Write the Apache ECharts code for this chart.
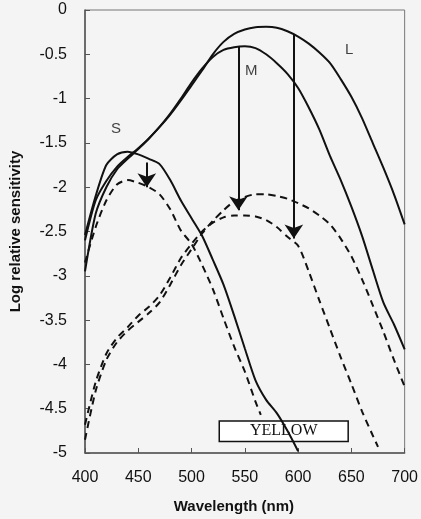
<!DOCTYPE html>
<html><head><meta charset="utf-8">
<script src="https://cdn.jsdelivr.net/npm/echarts@6/dist/echarts.min.js"></script>
<style>html,body{margin:0;padding:0;background:#f4f4f4}#c{width:421px;height:519px}</style>
</head><body><div id="c"></div>
<script>
// Wavelength samples (nm)
const wlL = [400,410,420,430,440,450,460,470,480,490,500,510,520,530,540,550,560,570,580,590,600,610,620,630,640,650,660,670,680,690,700];
const lSolid = [-2.6,-2.15,-1.93,-1.77,-1.66,-1.56,-1.45,-1.32,-1.18,-1.02,-0.85,-0.68,-0.5,-0.36,-0.27,-0.22,-0.195,-0.19,-0.2,-0.24,-0.3,-0.38,-0.48,-0.6,-0.78,-0.98,-1.22,-1.5,-1.78,-2.08,-2.42];
const mSolid = [-2.95,-2.3,-2.0,-1.8,-1.68,-1.57,-1.45,-1.32,-1.17,-1.0,-0.82,-0.66,-0.53,-0.45,-0.42,-0.41,-0.43,-0.5,-0.6,-0.72,-0.88,-1.1,-1.35,-1.65,-1.92,-2.22,-2.55,-2.93,-3.3,-3.55,-3.83];
const lDashed = [-4.85,-4.3,-3.95,-3.75,-3.62,-3.52,-3.42,-3.3,-3.1,-2.88,-2.7,-2.52,-2.38,-2.26,-2.16,-2.11,-2.08,-2.08,-2.1,-2.13,-2.18,-2.24,-2.32,-2.42,-2.58,-2.78,-3.04,-3.33,-3.63,-3.95,-4.25];
const wlM = [400,410,420,430,440,450,460,470,480,490,500,510,520,530,540,550,560,570,580,590,600,610,620,630,640,650,660,670,675];
const mDashed = [-4.68,-4.2,-3.88,-3.7,-3.58,-3.45,-3.35,-3.22,-3.02,-2.8,-2.64,-2.5,-2.4,-2.34,-2.32,-2.32,-2.33,-2.37,-2.45,-2.56,-2.66,-2.95,-3.28,-3.6,-3.92,-4.22,-4.53,-4.8,-4.93];
const wlS = [400,410,420,430,440,450,460,470,480,490,500,510,520,530,540,550,560,570,580,590,600];
const sSolid = [-2.54,-2.1,-1.75,-1.63,-1.6,-1.63,-1.68,-1.74,-1.92,-2.15,-2.35,-2.55,-2.82,-3.1,-3.45,-3.82,-4.18,-4.4,-4.55,-4.75,-4.98];
const wlSd = [400,410,420,430,440,450,460,470,480,490,500,510,520,530,540,550,560,565];
const sDashed = [-2.85,-2.45,-2.15,-1.97,-1.92,-1.95,-2.0,-2.08,-2.25,-2.49,-2.64,-2.88,-3.15,-3.48,-3.8,-4.08,-4.42,-4.57];
// Arrows (wavelength, from, to)
const arrowWl = [458,544,596];
const arrowFrom = [-1.72,-0.41,-0.28];
const arrowTo = [-2.0,-2.26,-2.58];
// Curve labels
const labelText = ['S','M','L'];
const labelWl = [429,556,648];
const labelVal = [-1.34,-0.69,-0.45];
// Yellow box
const boxText = 'YELLOW';
const boxWl = [526,647];
const boxVal = [-4.64,-4.87];
const xTicks = [400,700,50];
const yTicks = [-5,0,0.5];

const zip = (a,b)=>a.map((v,i)=>[v,b[i]]);
const font = "'Liberation Sans', Arial, sans-serif";
const solidStyle = {color:'#111', width:2, type:'solid'};
const dashStyle = {color:'#111', width:2, type:[7,5]};
function line(name, xs, ys, style){
  return {name, type:'line', data:zip(xs,ys), showSymbol:false, symbol:'none', smooth:0.25, lineStyle:style, itemStyle:{color:'#111'}, animation:false, z:3};
}
const chart = echarts.init(document.getElementById('c'), null, {renderer:'canvas'});
const arrowsSeries = line('arrows', [], [], solidStyle);
arrowsSeries.markLine = {
  symbol:['none','arrow'], symbolSize:14, silent:true, animation:false,
  label:{show:false}, lineStyle:{color:'#111', width:2, type:'solid'},
  itemStyle:{color:'#111'},
  data: arrowWl.map((w,i)=>[{coord:[w,arrowFrom[i]]},{coord:[w,arrowTo[i]]}])
};
const boxSeries = line('box', [], [], solidStyle);
boxSeries.markArea = {
  silent:true, animation:false,
  itemStyle:{color:'#ffffff', borderColor:'#111', borderWidth:1.5},
  label:{show:true, position:'inside', color:'#111', fontFamily:"'Liberation Serif', 'Times New Roman', serif", fontSize:16},
  data:[[{name:boxText, coord:[boxWl[0],boxVal[0]]},{coord:[boxWl[1],boxVal[1]]}]]
};
boxSeries.z = 5;
chart.setOption({
  backgroundColor:'#f4f4f4',
  animation:false,
  grid:{left:80, right:15, top:10, bottom:61, show:true, borderColor:'#777', borderWidth:1, backgroundColor:'transparent'},
  xAxis:{type:'value', min:xTicks[0], max:xTicks[1], interval:xTicks[2],
    name:'Wavelength (nm)', nameLocation:'middle', nameGap:46,
    nameTextStyle:{fontFamily:font, fontWeight:'bold', fontSize:15, color:'#111', padding:[0,22,0,0]},
    axisLine:{show:true, onZero:false, lineStyle:{color:'#555', width:1.5}},
    axisTick:{show:true, inside:true, length:5, lineStyle:{color:'#555'}},
    axisLabel:{fontFamily:font, fontSize:16, color:'#111', margin:17},
    splitLine:{show:false}},
  yAxis:{type:'value', min:yTicks[0], max:yTicks[1], interval:yTicks[2],
    name:'Log relative sensitivity', nameLocation:'middle', nameGap:62, nameRotate:90,
    nameTextStyle:{fontFamily:font, fontWeight:'bold', fontSize:15, color:'#111'},
    axisLine:{show:true, onZero:false, lineStyle:{color:'#555', width:1.5}},
    axisTick:{show:true, inside:true, length:5, lineStyle:{color:'#555'}},
    axisLabel:{fontFamily:font, fontSize:16, color:'#111', margin:18},
    splitLine:{show:false}},
  series:[
    line('L', wlL, lSolid, solidStyle),
    line('M', wlL, mSolid, solidStyle),
    line('S', wlS, sSolid, solidStyle),
    line('L dashed', wlL, lDashed, dashStyle),
    line('M dashed', wlM, mDashed, dashStyle),
    line('S dashed', wlSd, sDashed, dashStyle),
    arrowsSeries,
    boxSeries,
    {type:'scatter', symbolSize:0, animation:false, z:6,
     data: labelText.map((t,i)=>({name:t, value:[labelWl[i], labelVal[i]]})),
     label:{show:true, position:'inside', formatter:p=>p.name, fontFamily:font, fontSize:15, color:'#111'}}
  ]
});
</script></body></html>
